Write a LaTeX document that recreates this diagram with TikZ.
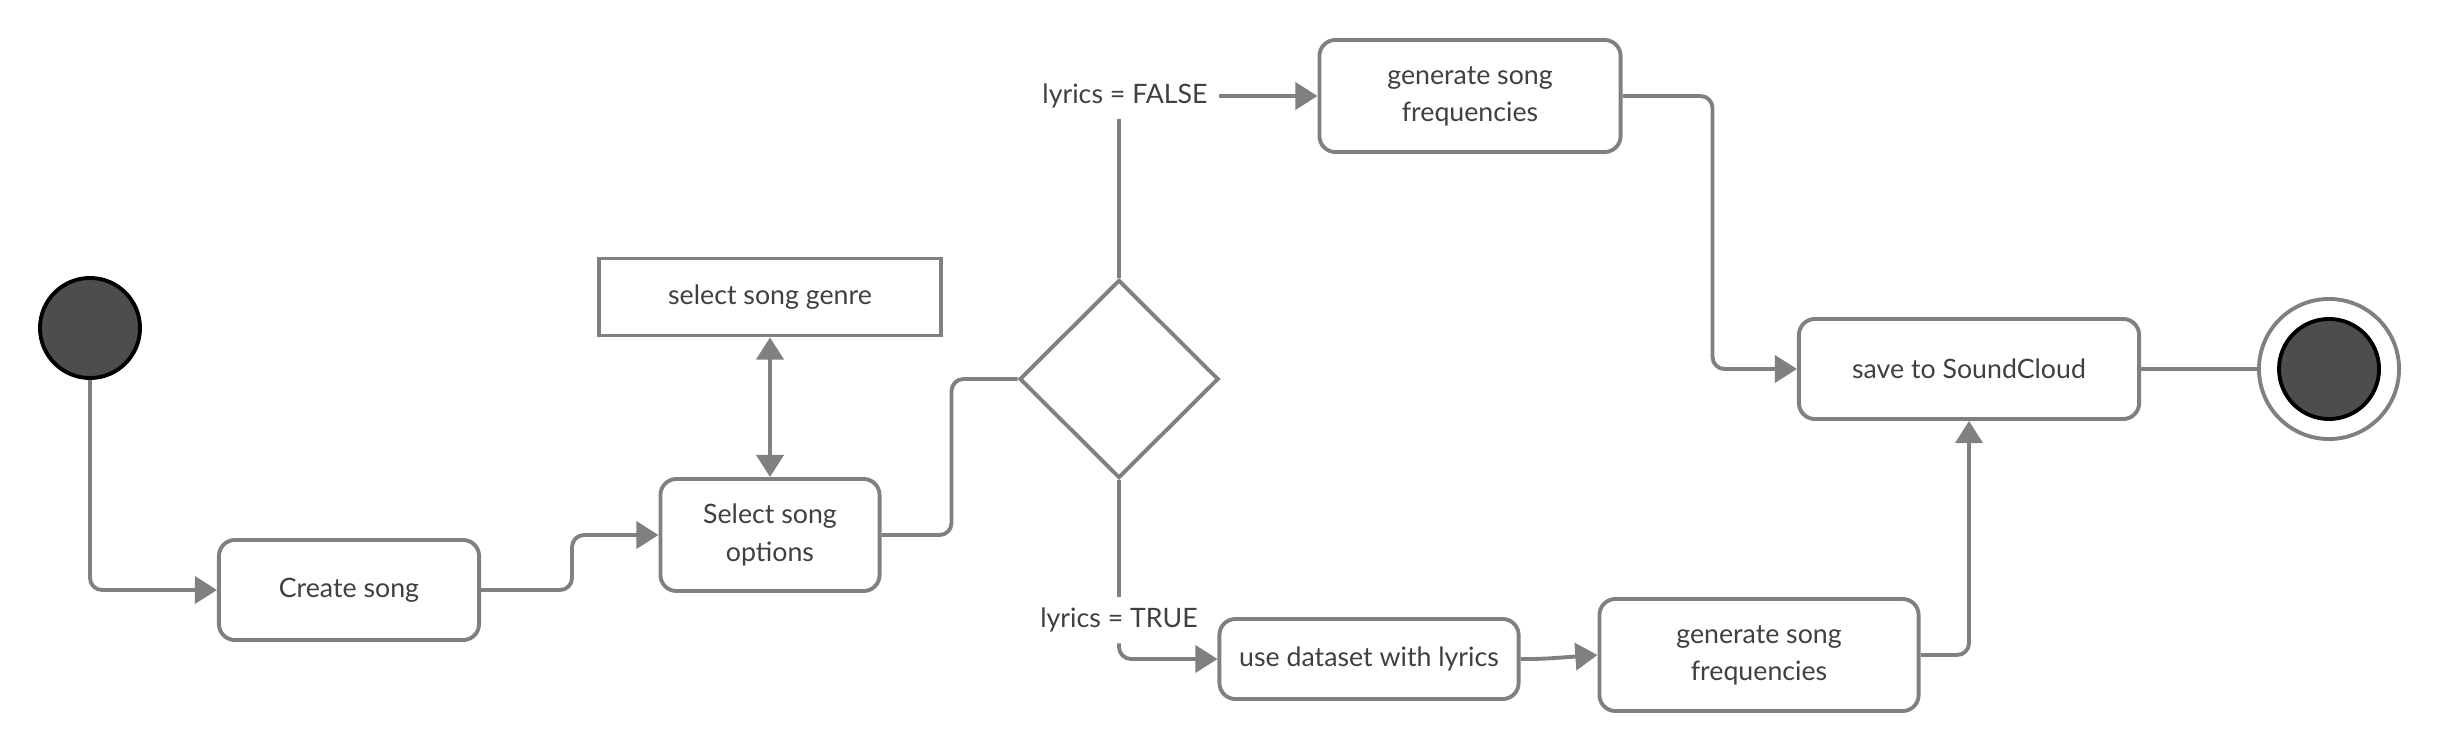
\documentclass[tikz,border=0pt]{standalone}
\usepackage{fontspec}
\setmainfont{Lato}
\usetikzlibrary{arrows.meta,shapes.geometric}
\definecolor{linegray}{RGB}{128,128,128}
\definecolor{textgray}{RGB}{64,64,64}
\definecolor{dotgray}{RGB}{77,77,77}
\def\tip{Triangle[length=6.3pt,width=7.7pt]}
\tikzset{
  act/.style={draw=linegray,line width=1.1pt,rounded corners=0.16cm,fill=white,
    text=textgray,align=center,inner sep=0pt,font=\fontsize{7.6}{10.6}\selectfont},
  obj/.style={act,rounded corners=0pt},
  lbl/.style={text=textgray,inner sep=3pt,font=\fontsize{7.6}{10.6}\selectfont},
  dot/.style={circle,fill=dotgray,draw=black,line width=1.1pt,minimum size=1.0cm,inner sep=0pt},
  flow/.style={draw=linegray,line width=1.1pt,rounded corners=0.12cm},
  arr/.style={flow,-{\tip}},
  arrboth/.style={flow,{\tip}-{\tip}},
}

\begin{document}
\begin{tikzpicture}[x=0.01cm,y=-0.01cm]
    \useasboundingbox (0,0) rectangle (2440,752);
    % states
    \node[dot] (start) at (90,328) {};
    \node[act,minimum width=2.6cm,minimum height=1.0cm] (create) at (349,590) {Create song};
    \node[act,minimum width=2.19cm,minimum height=1.12cm] (opts) at (770,535) {Select song\\options};
    \node[obj,minimum width=3.41cm,minimum height=0.77cm] (genre) at (770,297) {select song genre};
    \node[diamond,draw=linegray,line width=1.1pt,minimum width=1.99cm,minimum height=1.98cm,inner sep=0pt] (dec) at (1119,379) {};
    \node[lbl] (lfalse) at (1125,96) {lyrics = FALSE};
    \node[act,minimum width=3.01cm,minimum height=1.12cm] (genA) at (1470,96) {generate song\\frequencies};
    \node[lbl] (ltrue) at (1119,620) {lyrics = TRUE};
    \node[act,minimum width=2.99cm,minimum height=0.8cm] (data) at (1369,659) {use dataset with lyrics};
    \node[act,minimum width=3.19cm,minimum height=1.12cm] (genB) at (1759,655) {generate song\\frequencies};
    \node[act,minimum width=3.4cm,minimum height=1.0cm] (save) at (1969,369) {save to SoundCloud};
    \node[circle,draw=linegray,line width=1.1pt,fill=white,minimum size=1.4cm,inner sep=0pt] (stop) at (2329,369) {};
    \node[dot] (stopdot) at (stop) {};
    % transitions
    \draw[arr] (start.south) |- (create.west);
    \draw[arr] (create.east) -- ++(91,0) |- (opts.west);
    \draw[arrboth] (genre.south) -- (opts.north);
    \draw[flow] (opts.east) -- ++(70,0) |- (dec.west);
    \draw[flow] (dec.north) -- (dec.north |- lfalse.south);
    \draw[arr] (lfalse.east) -- (lfalse.east -| genA.west);
    \draw[arr] (genA.east) -- ++(90,0) |- (save.west);
    \draw[flow] (dec.south) -- (dec.south |- ltrue.north);
    \draw[arr] (dec.south |- ltrue.south) |- (data.west);
    \draw[arr] (data.east) -- ++(20,0) -- (genB.west);
    \draw[arr] (genB.east) -| (save.south);
    \draw[flow] (save.east) -- (stop.west);
\end{tikzpicture}
\end{document}
